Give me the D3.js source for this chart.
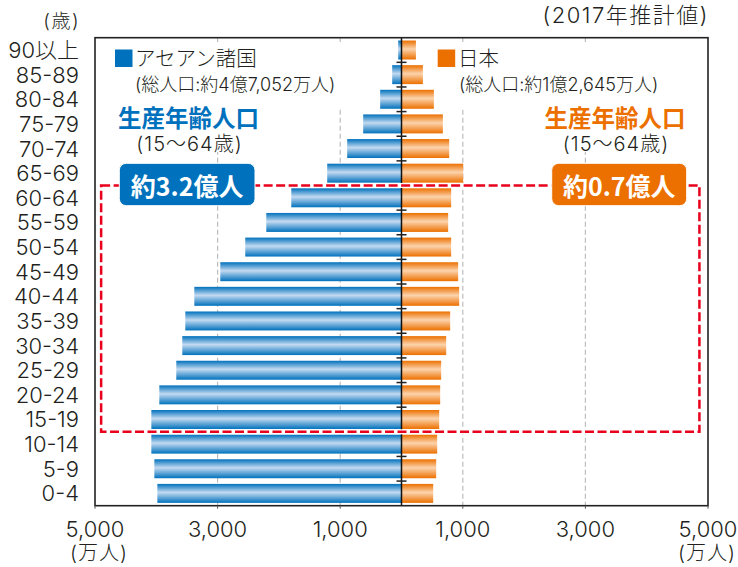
<!DOCTYPE html>
<meta charset="utf-8">
<head>
<title>アセアン諸国と日本の人口ピラミッド</title>
<script src="https://cdn.jsdelivr.net/npm/d3@7"></script>
<style>
body{margin:0;background:#fff;}
text{font-family:Inter,"Noto Sans CJK JP","Noto Sans",sans-serif;font-weight:300;fill:#231f20;}
text.b{font-family:"Noto Sans CJK JP",sans-serif;font-weight:700;}
</style>
</head>
<body>
<script>

// data (万人), top row first
var ages = ["90以上","85-89","80-84","75-79","70-74","65-69","60-64","55-59","50-54","45-49",
            "40-44","35-39","30-34","25-29","20-24","15-19","10-14","5-9","0-4"]
var asean = [54,152,348,625,886,1212,1798,2206,2549,2956,3380,3527,3576,3674,3951,4081,4081,4032,3983]
var japan = [235,349,528,675,778,1006,810,761,810,924,941,794,729,647,631,615,582,566,517]
var gridVals = [1000,3000]
var tickVals = [1000,3000,5000]

var w = 738, h = 567
var pL = 95, pR = 708, pT = 37.7, pB = 505.7
var cx = (pL+pR)/2
var blue = "#0071bc", orange = "#ec7000"

var svg = d3.select("body").append("svg").attr("width", w).attr("height", h)

var xL = d3.scaleLinear().domain([0,5000]).range([cx, pL])
var xR = d3.scaleLinear().domain([0,5000]).range([cx, pR])
var y = d3.scaleBand().domain(ages).range([pT, pB]).paddingInner(0.23).paddingOuter(0.115)
var step = y.step()

// gradients
var defs = svg.append("defs")
function grad(id, edge, mid){
    var g = defs.append("linearGradient").attr("id", id).attr("x1",0).attr("y1",0).attr("x2",0).attr("y2",1)
    g.append("stop").attr("offset","0").attr("stop-color", edge)
    g.append("stop").attr("offset","0.45").attr("stop-color", mid)
    g.append("stop").attr("offset","1").attr("stop-color", edge)
}
grad("gb", blue, "#c3daf1")
grad("go", orange, "#fcd3ac")

// grid lines
var grid = svg.append("g")
gridVals.forEach(function(v){
    [xL(v), xR(v)].forEach(function(gx){
        grid.append("line").attr("x1",gx).attr("x2",gx).attr("y1",pT).attr("y2",pB)
            .attr("stroke","#bdbdbd").attr("stroke-width",1.2).attr("stroke-dasharray","5,3")
    })
})

// white panels behind the legend texts
var bg = svg.append("g").attr("fill","#fff")
bg.append("rect").attr("x",100).attr("y",42).attr("width",246).attr("height",66)
bg.append("rect").attr("x",110).attr("y",100).attr("width",156).attr("height",52)
bg.append("rect").attr("x",430).attr("y",42).attr("width",260).attr("height",66)
bg.append("rect").attr("x",530).attr("y",100).attr("width",160).attr("height",52)

// bars
svg.append("g").selectAll("rect").data(asean).enter().append("rect")
    .attr("x", function(d){return xL(d)})
    .attr("y", function(d,i){return y(ages[i])})
    .attr("width", function(d){return cx - xL(d)})
    .attr("height", y.bandwidth())
    .attr("fill","url(#gb)")
svg.append("g").selectAll("rect").data(japan).enter().append("rect")
    .attr("x", cx)
    .attr("y", function(d,i){return y(ages[i])})
    .attr("width", function(d){return xR(d) - cx})
    .attr("height", y.bandwidth())
    .attr("fill","url(#go)")

// center line + ticks
svg.append("line").attr("x1",cx).attr("x2",cx).attr("y1",pT).attr("y2",pB)
    .attr("stroke","#111").attr("stroke-width",1.5)
for (var i = 1; i < ages.length; i++) {
    svg.append("line").attr("x1",cx-5).attr("x2",cx+5)
        .attr("y1",pT+i*step).attr("y2",pT+i*step)
        .attr("stroke","#222").attr("stroke-width",1.5)
}

// frame
svg.append("rect").attr("x",pL).attr("y",pT).attr("width",pR-pL).attr("height",pB-pT)
    .attr("fill","none").attr("stroke","#222").attr("stroke-width",1.6)

// x ticks + labels
tickVals.forEach(function(v){
    [xL(v), xR(v)].forEach(function(tx){
        svg.append("line").attr("x1",tx).attr("x2",tx).attr("y1",pB).attr("y2",pB+3)
            .attr("stroke","#555").attr("stroke-width",1)
        svg.append("text").attr("x",tx).attr("y",pB+23).attr("text-anchor","middle")
            .attr("dominant-baseline","central").attr("font-size",22).text(d3.format(",")(v))
    })
})
svg.append("text").attr("x",pL+4).attr("y",553).attr("text-anchor","middle")
    .attr("dominant-baseline","central").attr("font-size",20).attr("letter-spacing",1).text("(万人)")
svg.append("text").attr("x",pR-1).attr("y",553).attr("text-anchor","middle")
    .attr("dominant-baseline","central").attr("font-size",20).attr("letter-spacing",1).text("(万人)")

// y labels
svg.append("g").selectAll("text").data(ages).enter().append("text")
    .attr("x",79).attr("y",function(d){return y(d)+y.bandwidth()/2})
    .attr("text-anchor","end").attr("dominant-baseline","central")
    .attr("font-size",22).text(function(d){return d})
svg.append("text").attr("x",80).attr("y",21).attr("text-anchor","end")
    .attr("dominant-baseline","central").attr("font-size",19).attr("letter-spacing",1.5).text("(歳)")

// title
svg.append("text").attr("x",709).attr("y",15).attr("text-anchor","end")
    .attr("dominant-baseline","central").attr("font-size",22).attr("letter-spacing",1.5).text("(2017年推計値)")

// legends
svg.append("rect").attr("x",115).attr("y",49.5).attr("width",17.5).attr("height",17.5).attr("fill",blue)
svg.append("text").attr("x",135).attr("y",58.5).attr("dominant-baseline","central").attr("font-size",20.5).text("アセアン諸国")
svg.append("text").attr("x",135).attr("y",84).attr("dominant-baseline","central").attr("font-size",18).text("(総人口:約4億7,052万人)")
svg.append("rect").attr("x",437.7).attr("y",49.5).attr("width",17.5).attr("height",17.5).attr("fill",orange)
svg.append("text").attr("x",458).attr("y",58.5).attr("dominant-baseline","central").attr("font-size",20.5).text("日本")
svg.append("text").attr("x",459).attr("y",84).attr("dominant-baseline","central").attr("font-size",18).text("(総人口:約1億2,645万人)")

function workAge(xc, color){
    svg.append("text").attr("class","b").attr("x",xc).attr("y",116.5).attr("text-anchor","middle")
        .attr("dominant-baseline","central").attr("font-size",23.5)
        .style("fill",color).text("生産年齢人口")
    svg.append("text").attr("x",xc+1).attr("y",143.5).attr("text-anchor","middle")
        .attr("dominant-baseline","central").attr("font-size",20).attr("letter-spacing",1).text("(15〜64歳)")
}
workAge(188.5, blue)
workAge(615, orange)

// working-age dashed box
var ry0 = y("60-64") - y.paddingInner()*step/2
var ry1 = y("15-19") + y.bandwidth() + y.paddingInner()*step/2
var rx0 = xL(4900), rx1 = xR(4860)
svg.append("rect").attr("x",rx0).attr("y",ry0).attr("width",rx1-rx0).attr("height",ry1-ry0)
    .attr("fill","none").attr("stroke","#fff").attr("stroke-width",5)
svg.append("rect").attr("x",rx0).attr("y",ry0).attr("width",rx1-rx0).attr("height",ry1-ry0)
    .attr("fill","none").attr("stroke","#e8001c").attr("stroke-width",2.5).attr("stroke-dasharray","9,3.5")

// total boxes
function totalBox(x0, x1, color, label){
    svg.append("rect").attr("x",x0).attr("y",163.3).attr("width",x1-x0).attr("height",42.4)
        .attr("rx",7).attr("fill",color).attr("stroke","#fff").attr("stroke-width",1)
    svg.append("text").attr("class","b").attr("x",(x0+x1)/2).attr("y",185).attr("text-anchor","middle")
        .attr("dominant-baseline","central").attr("font-size",25)
        .style("fill","#fff").text(label)
}
totalBox(119.3, 255, blue, "約3.2億人")
totalBox(551.7, 686.7, orange, "約0.7億人")

</script>
</body>
</html>
